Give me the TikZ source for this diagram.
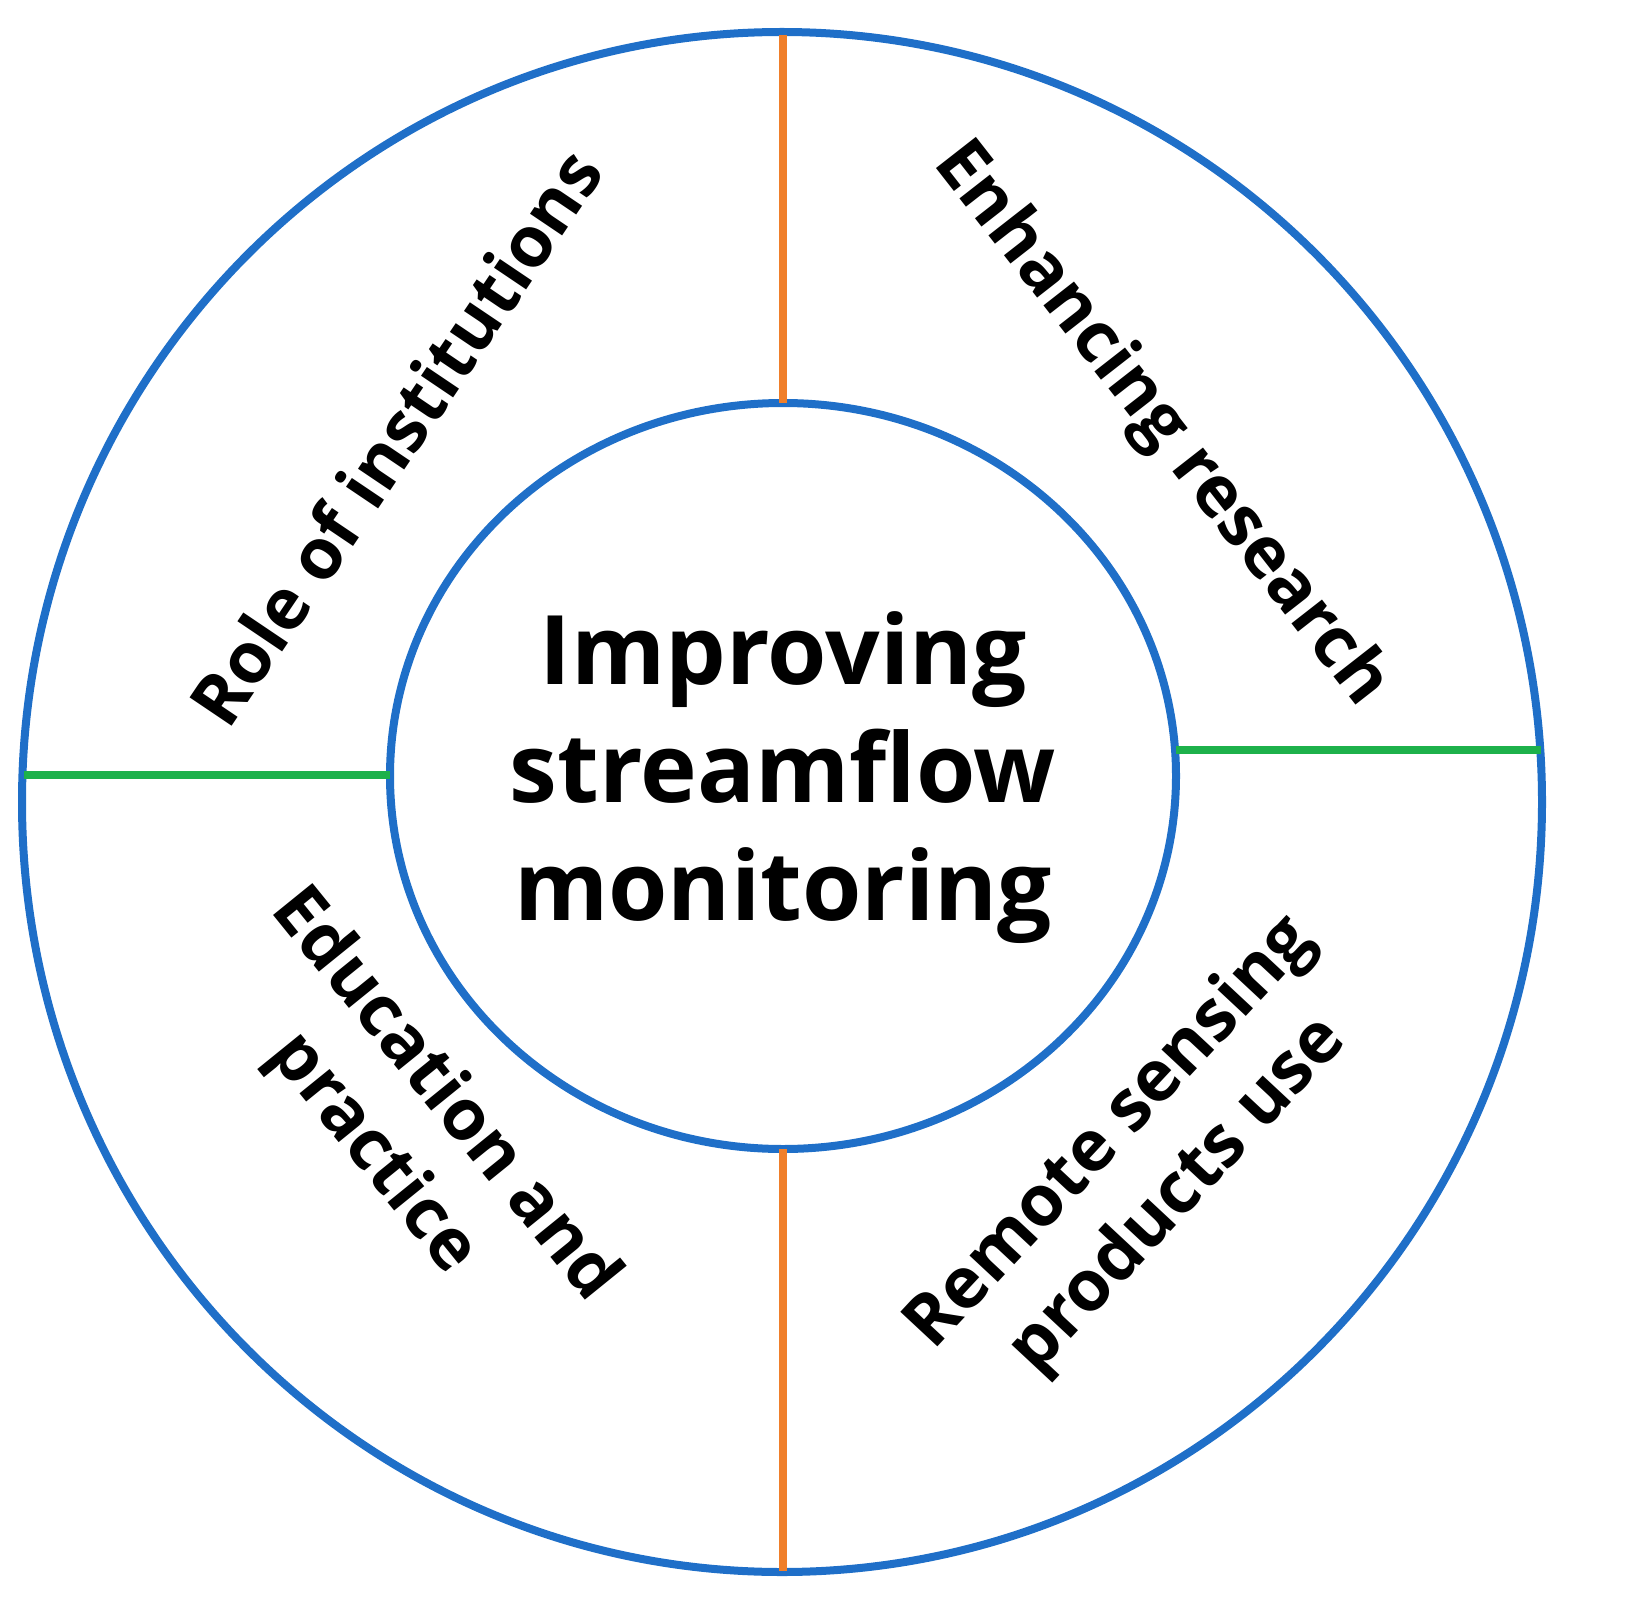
\documentclass[tikz,border=0pt]{standalone}
\usepackage{fontspec}
\setmainfont{Open Sans}
\definecolor{cblue}{HTML}{1F6FC8}
\definecolor{corange}{HTML}{F07F2A}
\definecolor{cgreen}{HTML}{1DB14B}
\begin{document}
\begin{tikzpicture}[x=0.5pt,y=-0.5pt,
  ring/.style={draw=cblue,line width=4pt},
  sep/.style={line width=4pt},
  lab/.style={font=\fontsize{35.5}{46}\selectfont\bfseries,align=center,inner sep=0pt},
  ctr/.style={font=\fontsize{48}{59}\selectfont\bfseries,align=center,inner sep=0pt}]
\useasboundingbox (0,0) rectangle (1631,1604);
\draw[ring] (782,802) ellipse [x radius=760,y radius=770];
\draw[ring] (783,776) ellipse [x radius=393,y radius=373];
\coordinate (t1) at (783,35); \coordinate (t2) at (783,403);
\coordinate (b1) at (783,1149); \coordinate (b2) at (783,1571);
\coordinate (l1) at (24,775); \coordinate (l2) at (390,775);
\coordinate (r1) at (1176,750); \coordinate (r2) at (1541,750);
\draw[sep,corange] (t1) -- (t2);
\draw[sep,corange] (b1) -- (b2);
\draw[sep,cgreen] (l1) -- (l2);
\draw[sep,cgreen] (r1) -- (r2);
\node[ctr] (c) at (783,778) {Improving\\streamflow\\monitoring};
\node[lab,rotate=56] (a) at (395,437) {Role of institutions};
\node[lab,rotate=-52] (b) at (1160,425) {Enhancing research};
\node[lab,rotate=-51] (d) at (408,1125) {Education and\\practice};
\node[lab,rotate=47] (e) at (1145,1165) {Remote sensing\\products use};
\end{tikzpicture}
\end{document}
